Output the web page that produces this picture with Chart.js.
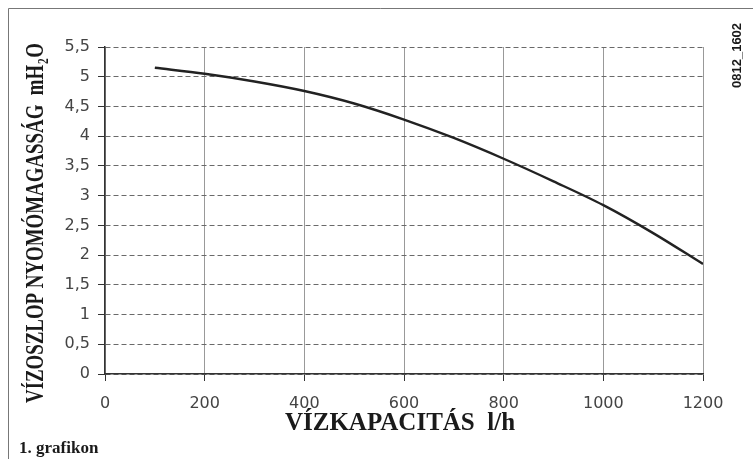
<!DOCTYPE html>
<html>
<head>
<meta charset="utf-8">
<script src="https://cdn.jsdelivr.net/npm/chart.js@4/dist/chart.umd.min.js"></script>
<style>
  html, body { margin: 0; padding: 0; background: #fff; }
  #wrap { position: relative; width: 753px; height: 459px; }
</style>
</head>
<body>
<div id="wrap"><canvas id="chart" width="753" height="459"></canvas></div>
<script>
// Flow rate (l/h) and pressure head (mH2O)
const flowRates = [100, 200, 300, 400, 500, 600, 700, 800, 900, 1000, 1100, 1200];
const headValues = [5.15, 5.05, 4.92, 4.76, 4.55, 4.28, 3.97, 3.62, 3.24, 2.84, 2.37, 1.85];
const xTicks = [0, 200, 400, 600, 800, 1000, 1200];
const yTicks = [0, 0.5, 1, 1.5, 2, 2.5, 3, 3.5, 4, 4.5, 5, 5.5];

const xTitle = 'VÍZKAPACITÁS  l/h';
const yTitle = 'VÍZOSZLOP NYOMÓMAGASSÁG  mH';
const noteText = '1. grafikon';
const codeText = '0812_1602';

const points = flowRates.map((x, i) => ({ x: x, y: headValues[i] }));

// Extra texts and page frame
const decorPlugin = {
    id: 'decor',
    afterDraw(chart) {
        const ctx = chart.ctx;
        ctx.save();

        // frame
        ctx.strokeStyle = '#777';
        ctx.lineWidth = 1;
        ctx.beginPath();
        ctx.moveTo(8.5, 459);
        ctx.lineTo(8.5, 8.5);
        ctx.lineTo(753, 8.5);
        ctx.stroke();

        ctx.fillStyle = '#1a1a1a';

        // x title
        ctx.font = 'bold 25px "Liberation Serif"';
        ctx.textAlign = 'center';
        ctx.textBaseline = 'alphabetic';
        ctx.fillText(xTitle, 400, 430);

        // note
        ctx.font = 'bold 17px "Liberation Serif"';
        ctx.textAlign = 'left';
        ctx.fillText(noteText, 19, 453);

        // y title, rotated, squeezed to fit
        ctx.save();
        ctx.translate(43, 403);
        ctx.rotate(-Math.PI / 2);
        ctx.font = 'bold 25px "Liberation Serif"';
        const mainW = ctx.measureText(yTitle).width;
        ctx.font = 'bold 15px "Liberation Serif"';
        const subW = ctx.measureText('2').width;
        ctx.font = 'bold 25px "Liberation Serif"';
        const oW = ctx.measureText('O').width;
        const total = mainW + subW + 2 + oW;
        const sx = 360 / total;
        ctx.scale(sx, 1);
        ctx.textAlign = 'left';
        ctx.fillText(yTitle, 0, 0);
        ctx.font = 'bold 15px "Liberation Serif"';
        ctx.fillText('2', mainW + 1, 5);
        ctx.font = 'bold 25px "Liberation Serif"';
        ctx.fillText('O', mainW + subW + 2, 0);
        ctx.restore();

        // code, rotated
        ctx.save();
        ctx.translate(741, 88);
        ctx.rotate(-Math.PI / 2);
        ctx.font = 'bold 13px "Liberation Sans"';
        ctx.textAlign = 'left';
        ctx.fillText(codeText, 0, 0);
        ctx.restore();

        ctx.restore();
    }
};

new Chart(document.getElementById('chart').getContext('2d'), {
    type: 'line',
    data: {
        datasets: [{
            data: points,
            borderColor: '#222',
            borderWidth: 2.4,
            pointRadius: 0,
            cubicInterpolationMode: 'monotone',
            fill: false
        }]
    },
    options: {
        responsive: false,
        animation: false,
        layout: { padding: { left: 0, top: 47, right: 50, bottom: 0 } },
        plugins: {
            legend: { display: false },
            tooltip: { enabled: false }
        },
        scales: {
            x: {
                type: 'linear',
                min: 0,
                max: 1200,
                afterFit(scale) { scale.height = 85; },
                afterBuildTicks(scale) { scale.ticks = xTicks.map(v => ({ value: v })); },
                grid: { color: '#999', lineWidth: 1, tickLength: 7, tickColor: '#333' },
                border: { color: '#333', width: 1.5 },
                ticks: {
                    padding: 13,
                    color: '#444',
                    font: { family: 'DejaVu Sans', size: 16 },
                    maxRotation: 0,
                    callback: v => String(v)
                }
            },
            y: {
                min: 0,
                max: 5.5,
                afterFit(scale) { scale.width = 105; },
                afterBuildTicks(scale) { scale.ticks = yTicks.map(v => ({ value: v })); },
                grid: { color: '#6a6a6a', lineWidth: 1, tickLength: 7, tickColor: '#333' },
                border: { color: '#333', width: 1.5, dash: [5, 3] },
                ticks: {
                    padding: 8,
                    color: '#444',
                    font: { family: 'DejaVu Sans', size: 16 },
                    callback: v => String(v).replace('.', ',')
                }
            }
        }
    },
    plugins: [decorPlugin]
});
</script>
</body>
</html>
